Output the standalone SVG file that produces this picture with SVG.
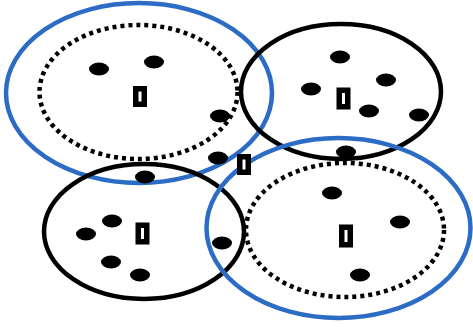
<svg xmlns="http://www.w3.org/2000/svg" width="473" height="329" viewBox="0 0 473 329">
<style>
.blue{fill:none;stroke:#2c6cc4;stroke-width:4.5}
.blk{fill:none;stroke:#000;stroke-width:4.5}
.dot{fill:none;stroke:#000;stroke-width:4.5;stroke-dasharray:4 4}
.n{fill:#000}
.h{fill:#fff;stroke:#000;stroke-width:5.5}
</style>
<rect width="473" height="329" fill="#fff"/>
<g id="cluster-top-left">
<ellipse class="blue" cx="139" cy="93" rx="133" ry="90"/>
<ellipse class="dot" cx="138.5" cy="92" rx="99" ry="67"/>
<ellipse class="n" cx="99" cy="69" rx="10" ry="6.5"/>
<ellipse class="n" cx="154" cy="62" rx="10" ry="6.5"/>
<ellipse class="n" cx="220" cy="116" rx="10" ry="6.5"/>
<ellipse class="n" cx="218" cy="158" rx="10" ry="6.5"/>
<rect class="h" x="135.75" y="88.75" width="8.5" height="15.5"/>
</g>
<g id="cluster-top-right">
<ellipse class="blk" cx="341" cy="91.5" rx="100" ry="67.5"/>
<ellipse class="n" cx="340" cy="57" rx="10" ry="6.5"/>
<ellipse class="n" cx="386" cy="80" rx="10" ry="6.5"/>
<ellipse class="n" cx="311" cy="89" rx="10" ry="6.5"/>
<ellipse class="n" cx="369" cy="111" rx="10" ry="6.5"/>
<ellipse class="n" cx="419" cy="115" rx="10" ry="6.5"/>
<ellipse class="n" cx="346" cy="152" rx="10" ry="6.5"/>
<rect class="h" x="339.25" y="90.25" width="8.5" height="16.5"/>
</g>
<g id="cluster-bottom-left">
<ellipse class="blk" cx="144" cy="231.5" rx="100" ry="67.5"/>
<ellipse class="n" cx="145" cy="177" rx="10" ry="6.5"/>
<ellipse class="n" cx="112" cy="221" rx="10" ry="6.5"/>
<ellipse class="n" cx="86" cy="234" rx="10" ry="6.5"/>
<ellipse class="n" cx="111" cy="262" rx="10" ry="6.5"/>
<ellipse class="n" cx="140" cy="275" rx="10" ry="6.5"/>
<ellipse class="n" cx="222" cy="243" rx="10" ry="6.5"/>
<rect class="h" x="138.25" y="225.25" width="8.5" height="16.5"/>
</g>
<g id="cluster-bottom-right">
<ellipse class="blue" cx="338.5" cy="228" rx="132" ry="90"/>
<ellipse class="dot" cx="345" cy="230" rx="99" ry="67"/>
<ellipse class="n" cx="332" cy="193" rx="10" ry="6.5"/>
<ellipse class="n" cx="400" cy="222" rx="10" ry="6.5"/>
<ellipse class="n" cx="360" cy="275" rx="10" ry="6.5"/>
<rect class="h" x="341.75" y="227.25" width="8.5" height="17.5"/>
</g>
<g id="gateway">
<rect class="h" x="239.75" y="156.75" width="8.5" height="15.5"/>
</g>
<g id="connectors"/>
</svg>
